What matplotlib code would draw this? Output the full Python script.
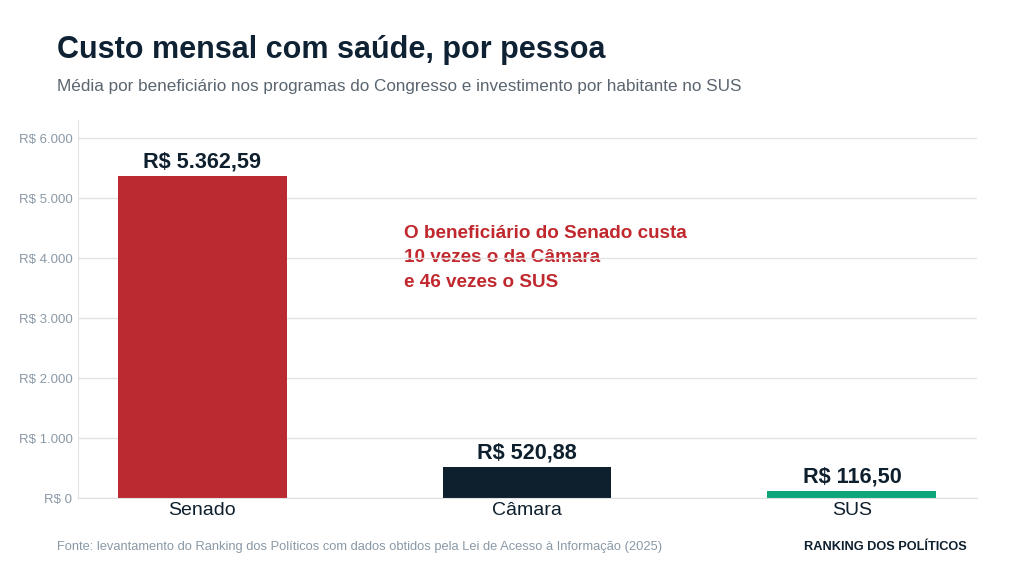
import matplotlib.pyplot as plt
from matplotlib.ticker import FuncFormatter

categories = ["Senado", "Câmara", "SUS"]
values = [5362.59, 520.88, 116.50]
value_labels = ["R$ 5.362,59", "R$ 520,88", "R$ 116,50"]
colors = ["#bb2a30", "#0e1f2e", "#0ea57b"]
yticks = [0, 1000, 2000, 3000, 4000, 5000, 6000]

plt.rcParams["font.family"] = ["Liberation Sans", "DejaVu Sans"]

fig = plt.figure(figsize=(10.24, 5.76), dpi=100)
ax = fig.add_axes([78 / 1024, 1 - 498 / 576, (977 - 78) / 1024, (498 - 120) / 576])

x = list(range(len(categories)))
ax.bar(x, values, width=0.52, color=colors, zorder=2)
for i, (v, lab) in enumerate(zip(values, value_labels)):
    ax.text(i, v + 60, lab, ha="center", va="bottom", fontsize=15.6,
            fontweight="bold", color="#0e1f2e")

ax.set_xlim(-0.382, 2.385)
ax.set_ylim(0, 6300)
ax.set_xticks(x)
ax.set_xticklabels(categories, fontsize=14, color="#0e1f2e")
ax.set_yticks(yticks)
ax.yaxis.set_major_formatter(FuncFormatter(lambda v, p: "R$ " + f"{v:,.0f}".replace(",", ".")))
ax.tick_params(axis="y", labelsize=9.5, labelcolor="#8a99a6", length=0, pad=4)
ax.tick_params(axis="x", length=0, pad=3)
ax.grid(axis="y", color="#e3e3e3", linewidth=1, zorder=3)
for side in ["top", "right"]:
    ax.spines[side].set_visible(False)
ax.spines["left"].set_color("#e3e3e3")
ax.spines["bottom"].set_color("#e0e0e0")

ax.text(0.62, 4000, "O beneficiário do Senado custa\n10 vezes o da Câmara\ne 46 vezes o SUS",
        ha="left", va="center", fontsize=13.6, fontweight="bold", color="#c0282d",
        linespacing=1.55, zorder=1)

fig.text(57 / 1024, 1 - 50 / 576, "Custo mensal com saúde, por pessoa", fontsize=22,
         fontweight="bold", color="#0e2233", va="center")
fig.text(57 / 1024, 1 - 86 / 576,
         "Média por beneficiário nos programas do Congresso e investimento por habitante no SUS",
         fontsize=12.35, color="#5a6570", va="center")
fig.text(57 / 1024, 1 - 547 / 576,
         "Fonte: levantamento do Ranking dos Políticos com dados obtidos pela Lei de Acesso à Informação (2025)",
         fontsize=9.25, color="#8a99a6", va="center")
fig.text(967 / 1024, 1 - 547 / 576, "RANKING DOS POLÍTICOS", fontsize=9.2,
         fontweight="bold", color="#0e1f2e", va="center", ha="right")

fig.savefig("out.png", dpi=100)
plt.close(fig)
